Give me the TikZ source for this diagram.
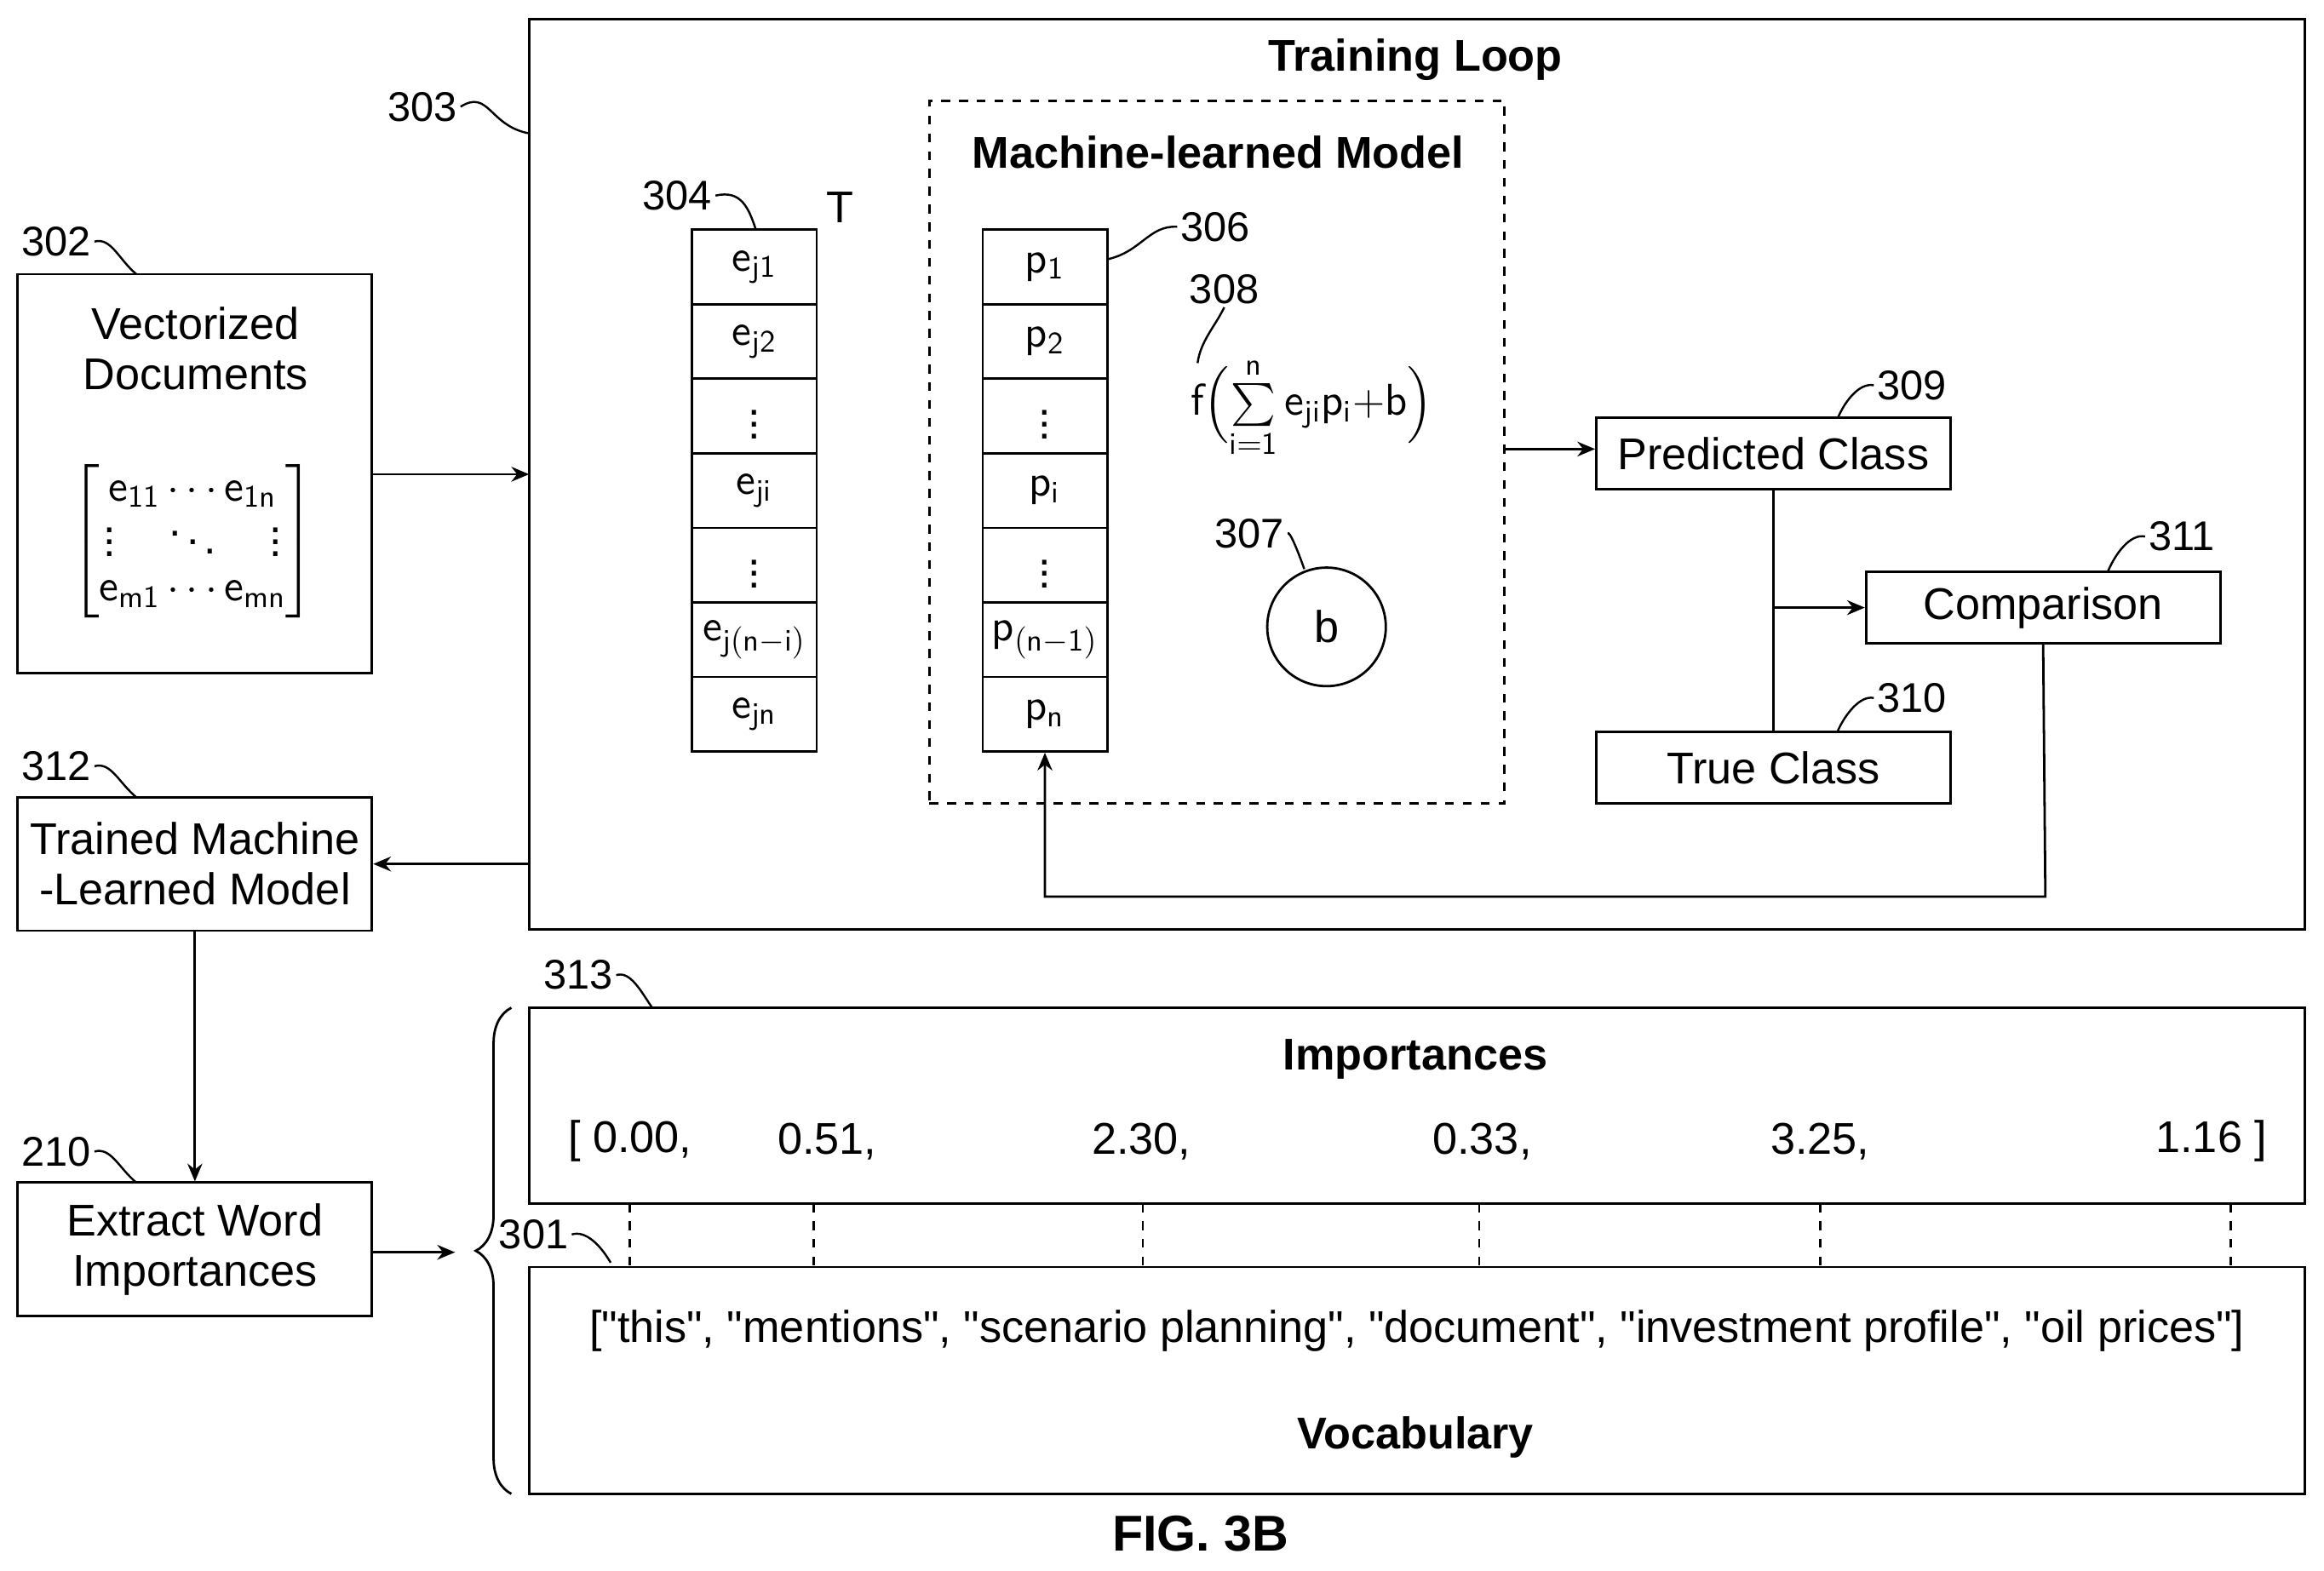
\documentclass[tikz,border=0pt]{standalone}
\usepackage{amsmath}
\usepackage{fontspec}
\setmainfont{Liberation Sans}[Ligatures=TeXOff]
\usetikzlibrary{arrows.meta,decorations.pathreplacing}
\newcommand{\dq}{\symbol{34}}
\begin{document}
\begin{tikzpicture}[x=0.5pt,y=-0.5pt,
  every node/.style={font=\fontsize{15}{17}\selectfont},
  box/.style={draw,line width=0.8pt,inner sep=0pt,align=center},
  cell/.style={draw,line width=0.8pt,minimum width=42pt,minimum height=25.15pt,inner sep=0pt},
  ref/.style={font=\fontsize{14}{16}\selectfont,inner sep=1pt},
  lead/.style={line width=0.7pt},
  arr/.style={line width=0.8pt,-{Stealth[length=6pt,width=5pt]}},
  ttl/.style={font=\bfseries\fontsize{15}{17}\selectfont}]
\useasboundingbox (0,0) rectangle (1568,1060);
% Training loop
\node[box,minimum width=599pt,minimum height=307pt] (loop) at (956,320) {};
\node[ttl] (looptitle) at (955,40) {Training Loop};
\node[ref] (r303) at (285,72) {303};
\draw[lead] (r303.east) .. controls (330,60) and (330,85) .. (357,90);
% left column
\node[box,minimum width=119.5pt,minimum height=134.5pt] (vec) at (131.5,319.5) {};
\node[align=center] (vect) at (132,235) {Vectorized\\Documents};
\node (mat) at (130,365) {$\left[\begin{array}{@{}c@{}}\mathsf{e_{11}}\cdots \mathsf{e_{1n}}\\[-2pt] \vdots\quad\ddots\quad\vdots\\[-2pt] \mathsf{e_{m1}}\cdots \mathsf{e_{mn}}\end{array}\right]$};
\node[ref] (r302) at (38,163) {302};
\draw[lead] (r302.east) .. controls (75,160) and (80,175) .. (92,185);
\node[box,minimum width=119.5pt,minimum height=45pt] (trained) at (131.5,583) {Trained Machine\\-Learned Model};
\node[ref] (r312) at (38,517) {312};
\draw[lead] (r312.east) .. controls (75,514) and (80,528) .. (92,538);
\node[box,minimum width=119.5pt,minimum height=45pt] (extract) at (131.5,843) {Extract Word\\Importances};
\node[ref] (r210) at (38,777) {210};
\draw[lead] (r210.east) .. controls (75,774) and (80,788) .. (92,798);
\coordinate (vin) at (357,320);
\draw[arr] (vec.east|-vin) -- (vin);
\draw[arr] (loop.west|-trained) -- (trained.east);
\draw[arr] (trained) -- (extract);
\coordinate (br) at (307,845);
\draw[arr] (extract.east|-br) -- (br);
\draw[line width=0.8pt,decorate,decoration={brace,amplitude=12pt}] (345,1008) -- (345,680);
% ML model
\node[draw,dashed,line width=0.8pt,minimum width=194pt,minimum height=237pt] (ml) at (821,305) {};
\node[ttl] (mltitle) at (822,103) {Machine-learned Model};
\foreach \i/\t in {1/{e_{j1}},2/{e_{j2}},3/{\vdots},4/{e_{ji}},5/{\vdots},6/{e_{j(n-i)}},7/{e_{jn}}}{
  \node[cell] (e\i) at (509,{155+25.15*2*(\i-0.5)}) {$\mathsf{\t}$};}
\foreach \i/\t in {1/{p_1},2/{p_2},3/{\vdots},4/{p_i},5/{\vdots},6/{p_{(n-1)}},7/{p_n}}{
  \node[cell] (p\i) at (705,{155+25.15*2*(\i-0.5)}) {$\mathsf{\t}$};}
\node (T) at (567,140) {T};
\node[ref] (r304) at (457,132) {304};
\draw[lead] (r304.east) .. controls (500,128) and (505,140) .. (510,155);
\node[ref] (r306) at (820,153) {306};
\draw[lead] (r306.west) .. controls (775,152) and (770,170) .. (747,175);
\node[ref] (r308) at (826,195) {308};
\draw[lead] (r308.south) .. controls (820,220) and (810,230) .. (808,245);
\node (form) at (885,275) {$\mathsf{f}\Bigl(\sum\limits_{\mathsf{i=1}}^{\mathsf{n}}\mathsf{e_{ji}p_i{+}b}\Bigr)$};
\node[draw,circle,line width=0.8pt,minimum size=40pt] (b) at (895,423) {b};
\node[ref] (r307) at (843,360) {307};
\draw[lead] (r307.east) .. controls (870,358) and (875,370) .. (880,384);
% classes
\node[box,minimum width=119.5pt,minimum height=24pt] (pred) at (1196.5,306) {Predicted Class};
\node[box,minimum width=119.5pt,minimum height=24pt] (comp) at (1378.5,410) {Comparison};
\node[box,minimum width=119.5pt,minimum height=24pt] (true) at (1196.5,518) {True Class};
\node[ref] (r309) at (1290,260) {309};
\draw[lead] (r309.west) .. controls (1255,258) and (1245,270) .. (1240,282);
\node[ref] (r311) at (1472,362) {311};
\draw[lead] (r311.west) .. controls (1437,360) and (1427,374) .. (1422,386);
\node[ref] (r310) at (1290,471) {310};
\draw[lead] (r310.west) .. controls (1255,469) and (1245,482) .. (1240,493);
\coordinate (mlout) at (1015,303);
\draw[arr] (mlout) -- (pred.west|-mlout);
\draw[line width=0.8pt] (pred.south) -- (true.north);
\draw[arr] (1197,410) -- (comp.west);
\draw[arr] (comp.south) -- (1380,605) -| (p7.south);
% importances
\node[box,minimum width=599pt,minimum height=66pt] (imp) at (956,746) {};
\node[ttl] (imptitle) at (955,715) {Importances};
\node[ref] (r313) at (390,658) {313};
\draw[lead] (r313.east) .. controls (425,655) and (432,668) .. (440,680);
\node (n1) at (425,770) {[ 0.00,};
\node (n2) at (558,770) {0.51,};
\node (n3) at (770,770) {2.30,};
\node (n4) at (1000,770) {0.33,};
\node (n5) at (1228,770) {3.25,};
\node (n6) at (1492,770) {1.16 ]};
\node[box,minimum width=599pt,minimum height=76.5pt] (voc) at (956,931.5) {};
\node (words) at (956,898) {["this", "mentions", "scenario planning", "document", "investment profile", "oil prices"]};
\node[ttl] (voctitle) at (955,970) {Vocabulary};
\node[ref] (r301) at (360,833) {301};
\draw[lead] (r301.east) .. controls (395,830) and (405,840) .. (412,852);
\foreach \x in {425,549,771,998,1228,1505}
  \draw[dashed,line width=0.8pt] (\x,812) -- (\x,855);
\node[font=\bfseries\fontsize{17}{19}\selectfont] (fig) at (810,1035) {FIG. 3B};
\end{tikzpicture}
\end{document}
